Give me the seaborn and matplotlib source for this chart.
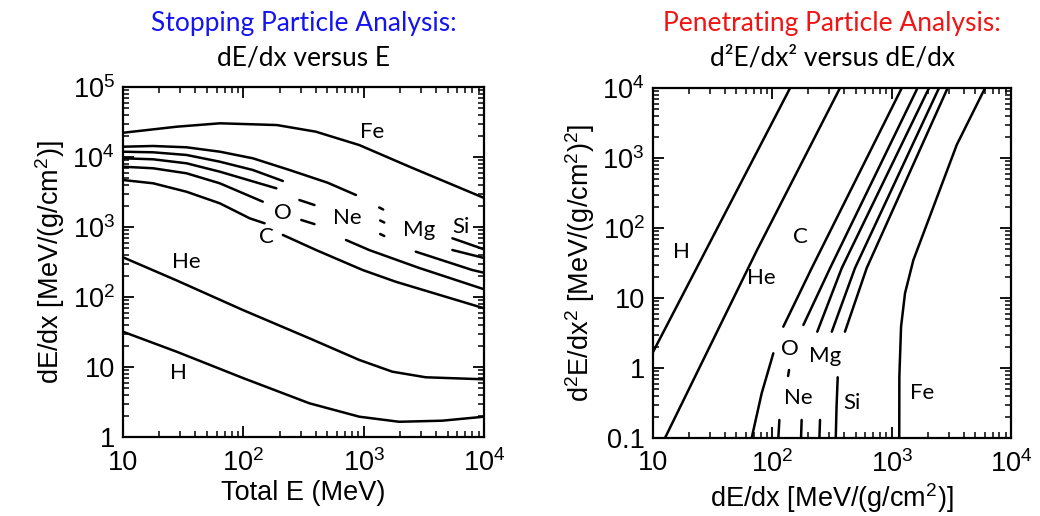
import numpy as np
import pandas as pd
import matplotlib
matplotlib.use("Agg")
import matplotlib.pyplot as plt
import seaborn as sns
from matplotlib.ticker import LogLocator, FuncFormatter, NullFormatter

nan = np.nan

# ---- Stopping particles: total energy E (MeV) vs dE/dx (MeV/(g/cm^2)); NaN = break in the line
H_E = [10, 28, 99, 354, 920, 1970, 4500, 10000]
H_DEDX = [31.9, 16.5, 6.97, 3.03, 1.95, 1.65, 1.71, 1.95]

HE_E = [10, 28, 99, 354, 920, 1730, 3280, 10000]
HE_DEDX = [369, 172, 65.2, 25.7, 12.6, 8.57, 7.13, 6.67]

C_E = [10, 17.8, 33.7, 63.7, 113, 150, nan, 213, 402, 980, 1850, 10000]
C_DEDX = [4690, 4210, 3190, 2180, 1330, 1130, nan, 770, 469, 243, 165, 69]

O_E = [10, 17.8, 33.7, 63.7, 145, nan, 303, 390, nan, 713, 1110, 2890, 10000]
O_DEDX = [7265, 6900, 5850, 4210, 2300, nan, 1260, 1100, nan, 652, 469, 260, 129]

NE_E = [10, 17.8, 33.7, 63.7, 188, nan, 292, 390, nan, 1371, 1483, nan, 2710, 7980, 10000]
NE_DEDX = [9580, 9270, 8130, 6170, 3570, nan, 2430, 2060, nan, 794, 744, nan, 444, 243, 222]

MG_E = [10, 17.8, 33.7, 63.7, 120, 213, nan, 1371, 1483, nan, 5460, 10000]
MG_DEDX = [11900, 11670, 10690, 8570, 6520, 4540, nan, 1239, 1159, nan, 469, 361]

SI_E = [10, 17.8, 33.7, 63.7, 120, 242, 500, 863, nan, 1346, 1452, nan, 5460, 10000]
SI_DEDX = [14030, 14360, 13760, 11910, 9580, 6520, 4300, 2865, nan, 1900, 1778, nan, 690, 480]

FE_E = [10, 28, 64, 190, 400, 920, 2400, 10000]
FE_DEDX = [22200, 27100, 30300, 28600, 23000, 14800, 7270, 2600]

# ---- Penetrating particles: dE/dx vs d2E/dx2 (MeV/(g/cm^2))^2
H_P_X = [10, 141]
H_P_Y = [1.69, 1e4]
HE_P_X = [12.6, 74.5, 369]
HE_P_Y = [0.1, 48.5, 1e4]
C_P_X = [1216, 214, 123.6, nan, 101.9, 81.4, 67.1]
C_P_Y = [1e4, 26.8, 3.89, nan, 1.62, 0.435, 0.1]
O_P_X = [1648, 305, 182, nan, 138, 135.5, nan, 114.5, 112.3]
O_P_Y = [1e4, 26.8, 4.11, nan, 0.936, 0.769, nan, 0.181, 0.1]
NE_P_X = [2056, 382, 238, nan, 176, 174]
NE_P_Y = [1e4, 26.8, 3.30, nan, 0.181, 0.1]
MG_P_X = [2494, 493, 315, nan, 251, 248]
MG_P_Y = [1e4, 26.8, 3.30, nan, 0.181, 0.1]
SI_P_X = [2946, 618, 406, nan, 353, 345, 340]
SI_P_Y = [1e4, 26.8, 3.30, nan, 0.736, 0.27, 0.1]
FE_P_X = [6067, 3516, 1521, 1294, 1199, 1160, 1158]
FE_P_Y = [1e4, 1549, 34.9, 11.7, 3.89, 0.751, 0.1]

# Species label anchor points (data coordinates)
LEFT_LABELS = {"Fe": (1186, 22970), "Si": (6400, 1010), "Mg": (2890, 906),
               "Ne": (736, 1331), "O": (213, 1570), "C": (155, 727),
               "He": (33.7, 319), "H": (28.7, 8.29)}
RIGHT_LABELS = {"H": (17.4, 45.8), "He": (81.5, 19.1), "C": (171, 75.2),
                "O": (140.6, 1.85), "Mg": (277, 1.48), "Ne": (165, 0.369),
                "Si": (463, 0.313), "Fe": (1786, 0.435)}


def to_frame(curves):
    rows = []
    for name, xs, ys in curves:
        seg = 0
        for x, y in zip(xs, ys):
            if np.isnan(x) or np.isnan(y):
                seg += 1
                continue
            rows.append({"uid": f"{name}-{seg}", "x": x, "y": y})
    return pd.DataFrame(rows)


left_df = to_frame([
    ("H", H_E, H_DEDX), ("He", HE_E, HE_DEDX), ("C", C_E, C_DEDX),
    ("O", O_E, O_DEDX), ("Ne", NE_E, NE_DEDX), ("Mg", MG_E, MG_DEDX),
    ("Si", SI_E, SI_DEDX), ("Fe", FE_E, FE_DEDX),
])
right_df = to_frame([
    ("H", H_P_X, H_P_Y), ("He", HE_P_X, HE_P_Y), ("C", C_P_X, C_P_Y),
    ("O", O_P_X, O_P_Y), ("Ne", NE_P_X, NE_P_Y), ("Mg", MG_P_X, MG_P_Y),
    ("Si", SI_P_X, SI_P_Y), ("Fe", FE_P_X, FE_P_Y),
])

sns.set_theme(style="ticks")
plt.rcParams.update({
    "font.family": ["Liberation Sans", "DejaVu Sans"],
    "mathtext.fontset": "custom",
    "mathtext.rm": "Liberation Sans",
    "mathtext.it": "Liberation Sans:italic",
    "mathtext.bf": "Liberation Sans:bold",
    "axes.linewidth": 1.6,
    "axes.edgecolor": "black",
    "axes.labelcolor": "black",
    "xtick.color": "black", "ytick.color": "black",
    "xtick.direction": "in", "ytick.direction": "in",
    "xtick.top": True, "ytick.right": True,
    "xtick.major.size": 8, "ytick.major.size": 8,
    "xtick.minor.size": 4, "ytick.minor.size": 4,
    "xtick.major.width": 1.3, "ytick.major.width": 1.3,
    "xtick.minor.width": 1.1, "ytick.minor.width": 1.1,
    "xtick.labelsize": 19.5, "ytick.labelsize": 19.5,
    "axes.labelsize": 19.5,
})

TITLE_FONT = ["Lato", "DejaVu Sans"]


def decade_label(v, pos):
    e = int(round(np.log10(v)))
    if e == -1:
        return "0.1"
    if e == 0:
        return "1"
    if e == 1:
        return "10"
    return rf"$10^{{{e}}}$"


def style_axis(ax, xlim, ylim):
    ax.set_xscale("log")
    ax.set_yscale("log")
    ax.set_xlim(*xlim)
    ax.set_ylim(*ylim)
    for axis in (ax.xaxis, ax.yaxis):
        axis.set_major_locator(LogLocator(base=10, numticks=20))
        axis.set_minor_locator(LogLocator(base=10, subs=np.arange(2, 10), numticks=20))
        axis.set_major_formatter(FuncFormatter(decade_label))
        axis.set_minor_formatter(NullFormatter())
    ax.tick_params(axis="x", pad=9)
    ax.tick_params(axis="y", pad=6)
    for s in ax.spines.values():
        s.set_visible(True)
        s.set_color("black")


fig = plt.figure(figsize=(10.4, 5.16), dpi=100)
ax1 = fig.add_axes([0.1183, 0.1531, 0.3471, 0.6783])
ax2 = fig.add_axes([0.6279, 0.1512, 0.3442, 0.6783])

for ax, df in ((ax1, left_df), (ax2, right_df)):
    ax.set_xscale("log")
    ax.set_yscale("log")
    sns.lineplot(data=df, x="x", y="y", units="uid", estimator=None, sort=False,
                 color="black", lw=1.8, legend=False, ax=ax)

style_axis(ax1, (10, 1e4), (1, 1e5))
style_axis(ax2, (10, 1e4), (0.1, 1e4))

ax1.set_xlabel("Total E (MeV)", labelpad=2)
ax1.set_ylabel(r"dE/dx [MeV/(g/cm$^{2}$)]", labelpad=4)
ax2.set_xlabel(r"dE/dx [MeV/(g/cm$^{2}$)]", labelpad=2)
ax2.set_ylabel(r"d$^{2}$E/dx$^{2}$ [MeV/(g/cm$^{2}$)$^{2}$]", labelpad=4)

for ax, labels in ((ax1, LEFT_LABELS), (ax2, RIGHT_LABELS)):
    for name, (x, y) in labels.items():
        ax.text(x, y, name, ha="center", va="center", fontsize=16,
                family=TITLE_FONT, color="black")

# Panel headings
for ax, head, color, sub in (
    (ax1, "Stopping Particle Analysis:", "#1414f0", "dE/dx versus E"),
    (ax2, "Penetrating Particle Analysis:", "#f01414", "d²E/dx² versus dE/dx"),
):
    pos = ax.get_position()
    cx = (pos.x0 + pos.x1) / 2
    fig.text(cx, 0.955, head, ha="center", va="center", fontsize=19,
             family=TITLE_FONT, color=color)
    fig.text(cx, 0.887, sub, ha="center", va="center", fontsize=19,
             family=TITLE_FONT, color="black")

fig.savefig("out.png", dpi=100)
